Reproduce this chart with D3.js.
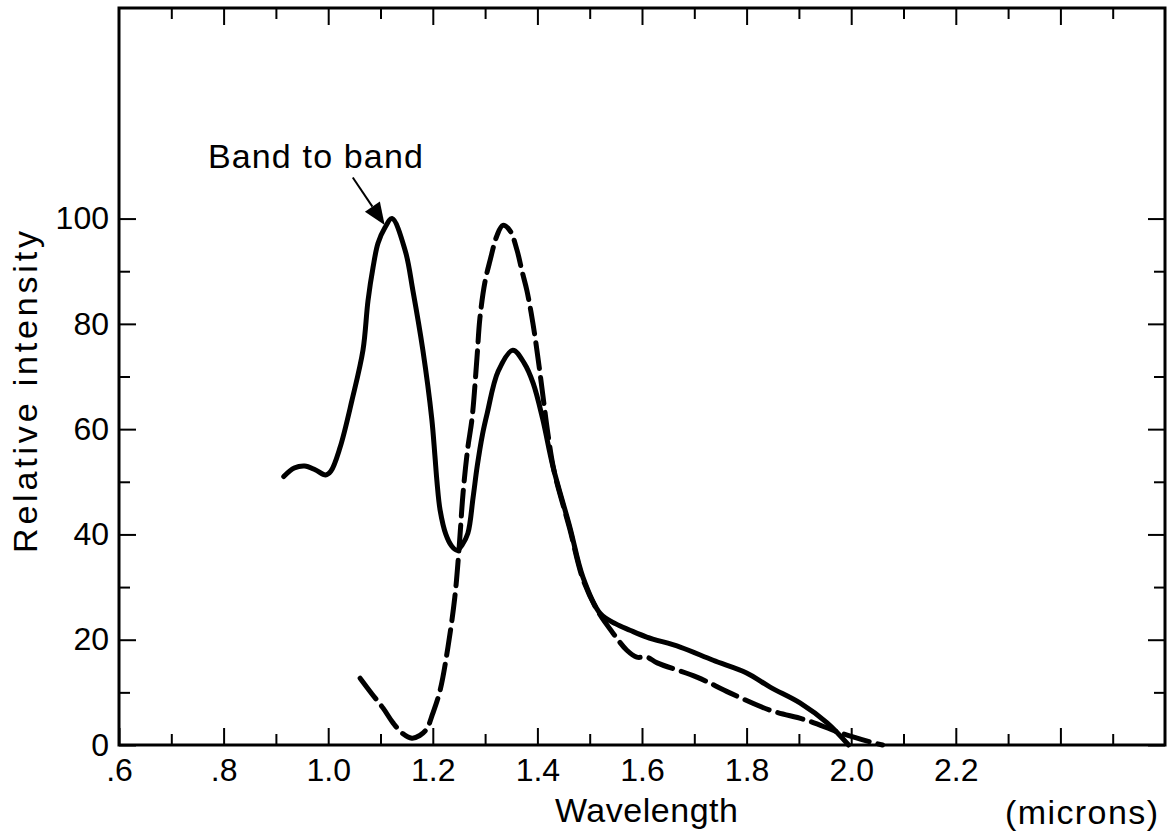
<!DOCTYPE html>
<html>
<head>
<meta charset="utf-8">
<script src="https://cdn.jsdelivr.net/npm/d3@7"></script>
<style>
  html, body { margin: 0; padding: 0; background: #fff; }
  svg { display: block; }
  text { font-family: "Liberation Sans", Arial, sans-serif; fill: #000; }
</style>
</head>
<body>
<svg id="chart" width="1176" height="837"></svg>
<script>
// ---- Data ----
// Solid curve: wavelength (microns) and relative intensity
const solidWavelength = [0.915, 0.935, 0.955, 0.975, 0.995, 1.005, 1.0226, 1.0455, 1.0665, 1.0761, 1.0857,
  1.0952, 1.1086, 1.122, 1.147, 1.162, 1.181, 1.198, 1.204, 1.208, 1.214, 1.225, 1.236, 1.246, 1.256,
  1.267, 1.277, 1.285, 1.295, 1.304, 1.325, 1.353, 1.375, 1.392, 1.410, 1.430, 1.462, 1.487, 1.520,
  1.550, 1.577, 1.609, 1.673, 1.736, 1.800, 1.845, 1.902, 1.954, 1.995];
const solidIntensity = [51, 52.6, 53, 52.3, 51.3, 52, 56.5, 65.5, 75, 84.4, 90.7,
  95.3, 98.3, 100, 94, 86.3, 75, 62, 55, 50, 44.6, 40, 37.8, 37, 38,
  40.2, 47, 53, 59, 63, 71, 75, 72.5, 68.7, 62, 52.8, 41.4, 31.9, 25,
  23, 21.8, 20.5, 18.6, 16.1, 13.7, 11, 8, 4.2, 0];

// Dashed curve
const dashedWavelength = [1.061, 1.083, 1.105, 1.124, 1.142, 1.160, 1.175, 1.188, 1.200, 1.214, 1.229, 1.242,
  1.250, 1.258, 1.267, 1.275, 1.2845, 1.290, 1.2998, 1.3094, 1.3228, 1.334, 1.3476, 1.361, 1.3706, 1.380,
  1.3916, 1.401, 1.411, 1.420, 1.432, 1.462, 1.487, 1.515, 1.545, 1.571, 1.590, 1.609, 1.629, 1.705,
  1.768, 1.845, 1.915, 1.979, 2.036, 2.060];
const dashedIntensity = [12.7, 9.8, 7, 4.2, 2.2, 1.3, 1.8, 3, 6, 10.4, 18.6, 28,
  37, 48, 56.5, 62, 73.6, 81, 88, 92, 96.8, 98.7, 97.7, 94, 90, 86.3,
  80, 73.6, 66, 59.2, 52, 41, 31.5, 25.5, 21.2, 18, 16.7, 16.7, 15.6, 12.9,
  9.9, 6.6, 4.7, 2.3, 0.6, 0];

// Axis ticks and labels
const xMajorTicks = [0.6, 0.8, 1.0, 1.2, 1.4, 1.6, 1.8, 2.0, 2.2, 2.4];
const xMajorLabels = [".6", ".8", "1.0", "1.2", "1.4", "1.6", "1.8", "2.0", "2.2", ""];
const xMinorTicks = [0.7, 0.9, 1.1, 1.3, 1.5, 1.7, 1.9, 2.1, 2.3, 2.5];
const yMajorTicks = [0, 20, 40, 60, 80, 100];
const yMajorLabels = ["0", "20", "40", "60", "80", "100"];
const yMinorTicks = [10, 30, 50, 70, 90];

// Annotation (data coordinates)
const annotationText = "Band to band";
const annotationTextAt = [0.77, 109.7];
const arrowFrom = [1.047, 107.8];
const arrowTo = [1.108, 98.8];

const xTitle = "Wavelength";
const xUnit = "(microns)";
const yTitle = "Relative intensity";

// ---- Drawing ----
const svg = d3.select("#chart");
svg.append("rect").attr("width", 1176).attr("height", 837).attr("fill", "#fff");

const x = d3.scaleLinear().domain([0.6, 2.6]).range([119, 1165]);
const y = d3.scaleLinear().domain([0, 140]).range([745, 8]);

const MAJ = 17, MIN = 11;

function styleAxis(g) {
  g.select(".domain").remove();
  g.selectAll(".tick line").attr("stroke", "#000").attr("stroke-width", 2);
  g.selectAll(".tick text").style("font-size", "32px").attr("fill", "#000");
}

// bottom
svg.append("g").attr("transform", `translate(0,${y(0)})`)
  .call(d3.axisBottom(x).tickValues(xMajorTicks).tickSize(-MAJ).tickPadding(13)
    .tickFormat((d, i) => xMajorLabels[i]))
  .call(styleAxis);
svg.append("g").attr("transform", `translate(0,${y(0)})`)
  .call(d3.axisBottom(x).tickValues(xMinorTicks).tickSize(-MIN).tickFormat(""))
  .call(styleAxis);
// top
svg.append("g").attr("transform", `translate(0,${y(140)})`)
  .call(d3.axisTop(x).tickValues(xMajorTicks.slice(1)).tickSize(-MAJ).tickFormat(""))
  .call(styleAxis);
svg.append("g").attr("transform", `translate(0,${y(140)})`)
  .call(d3.axisTop(x).tickValues(xMinorTicks).tickSize(-MIN).tickFormat(""))
  .call(styleAxis);
// left
svg.append("g").attr("transform", `translate(${x(0.6)},0)`)
  .call(d3.axisLeft(y).tickValues(yMajorTicks).tickSize(-MAJ).tickPadding(10)
    .tickFormat((d, i) => yMajorLabels[i]))
  .call(styleAxis);
svg.append("g").attr("transform", `translate(${x(0.6)},0)`)
  .call(d3.axisLeft(y).tickValues(yMinorTicks).tickSize(-MIN).tickFormat(""))
  .call(styleAxis);
// right
svg.append("g").attr("transform", `translate(${x(2.6)},0)`)
  .call(d3.axisRight(y).tickValues(yMajorTicks).tickSize(-MAJ).tickFormat(""))
  .call(styleAxis);
svg.append("g").attr("transform", `translate(${x(2.6)},0)`)
  .call(d3.axisRight(y).tickValues(yMinorTicks).tickSize(-MIN).tickFormat(""))
  .call(styleAxis);

// frame
svg.append("rect")
  .attr("x", x(0.6)).attr("y", y(140))
  .attr("width", x(2.6) - x(0.6)).attr("height", y(0) - y(140))
  .attr("fill", "none").attr("stroke", "#000").attr("stroke-width", 3);

const line = d3.line().x(d => x(d[0])).y(d => y(d[1])).curve(d3.curveCatmullRom.alpha(0.5));

const solidData = solidWavelength.map((w, i) => [w, solidIntensity[i]]);
const dashedData = dashedWavelength.map((w, i) => [w, dashedIntensity[i]]);

svg.append("path").datum(dashedData)
  .attr("d", line).attr("fill", "none").attr("stroke", "#000")
  .attr("stroke-width", 5).attr("stroke-dasharray", "26,9").attr("stroke-linecap", "round");

svg.append("path").datum(solidData)
  .attr("d", line).attr("fill", "none").attr("stroke", "#000")
  .attr("stroke-width", 5).attr("stroke-linejoin", "round").attr("stroke-linecap", "round");

// annotation arrow
const ax0 = x(arrowFrom[0]), ay0 = y(arrowFrom[1]);
const ax1 = x(arrowTo[0]), ay1 = y(arrowTo[1]);
const ang = Math.atan2(ay1 - ay0, ax1 - ax0);
const headLen = 22, headHalf = 9;
const bx = ax1 - headLen * Math.cos(ang), by = ay1 - headLen * Math.sin(ang);
svg.append("line").attr("x1", ax0).attr("y1", ay0).attr("x2", bx).attr("y2", by)
  .attr("stroke", "#000").attr("stroke-width", 2);
svg.append("path")
  .attr("d", `M${ax1},${ay1} L${bx + headHalf * Math.sin(ang)},${by - headHalf * Math.cos(ang)} L${bx - headHalf * Math.sin(ang)},${by + headHalf * Math.cos(ang)} Z`)
  .attr("fill", "#000");

svg.append("text")
  .attr("x", x(annotationTextAt[0])).attr("y", y(annotationTextAt[1]))
  .attr("textLength", 215).attr("lengthAdjust", "spacing")
  .style("font-size", "34px").text(annotationText);

// axis titles
svg.append("text").attr("x", 555).attr("y", 822)
  .attr("textLength", 183).attr("lengthAdjust", "spacing")
  .style("font-size", "34px").text(xTitle);
svg.append("text").attr("x", 1005).attr("y", 824)
  .attr("textLength", 153).attr("lengthAdjust", "spacing")
  .style("font-size", "34px").text(xUnit);
svg.append("text")
  .attr("transform", "translate(37,392) rotate(-90)")
  .attr("text-anchor", "middle")
  .attr("textLength", 322).attr("lengthAdjust", "spacing")
  .style("font-size", "34px").text(yTitle);
</script>
</body>
</html>
